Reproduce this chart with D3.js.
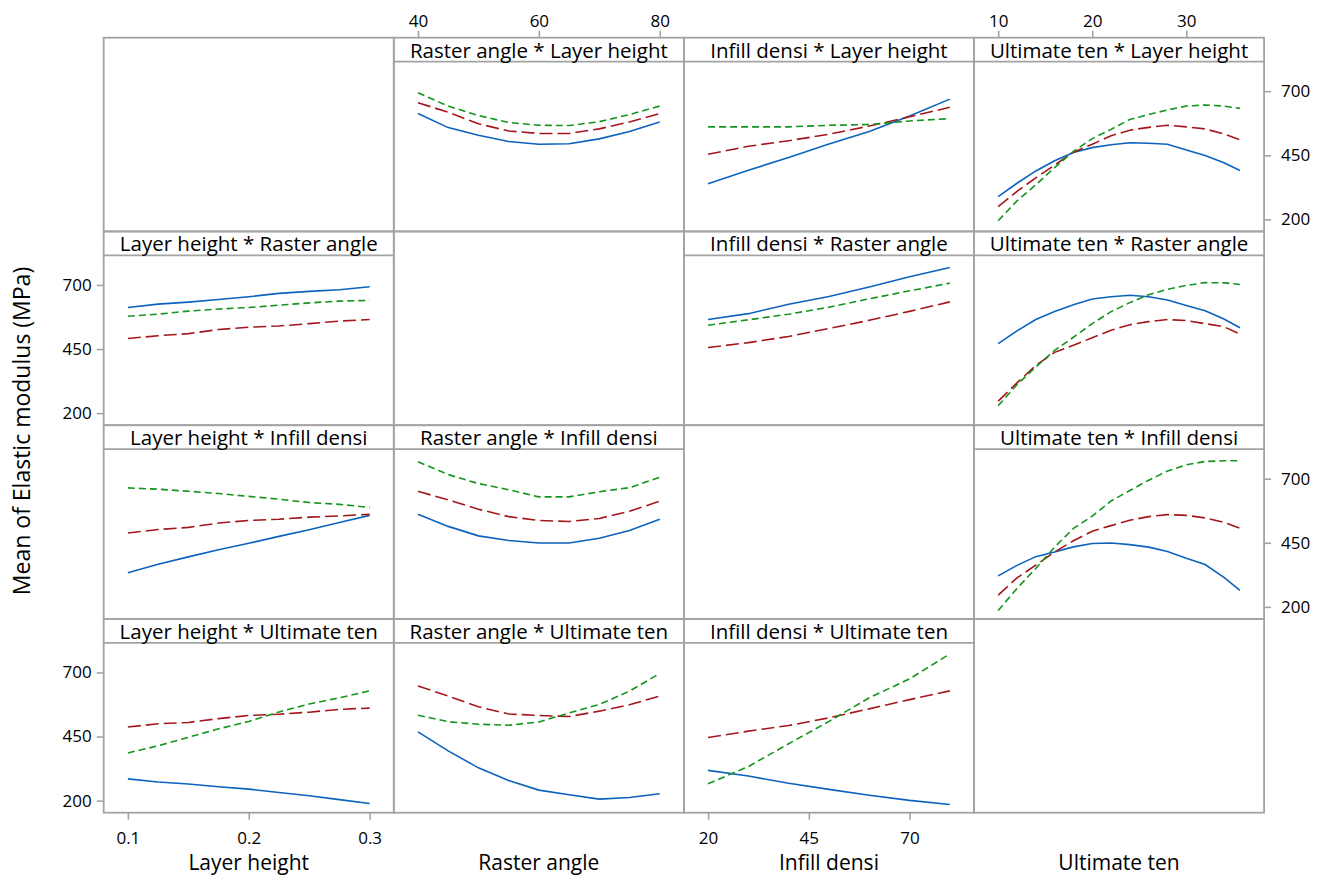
<!DOCTYPE html>
<html>
<head>
<meta charset="utf-8">
<script src="https://cdn.jsdelivr.net/npm/d3@7"></script>
<style>
  body { margin: 0; background: #fff; }
  svg { display: block; }
  text { font-family: "Open Sans", "Noto Sans", sans-serif; fill: #000; }
</style>
</head>
<body>
<svg id="chart" width="1320" height="878"></svg>
<script>
// Factors in the matrix: columns give the x variable, rows give the grouping variable
const factors = ["Layer height", "Raster angle", "Infill densi", "Ultimate ten"];

// Evaluation points along each factor
const layerHeightX = [0.1, 0.125, 0.15, 0.175, 0.2, 0.225, 0.25, 0.275, 0.3];
const rasterAngleX = [40, 45, 50, 55, 60, 65, 70, 75, 80];
const infillDensiX = [20, 30, 40, 50, 60, 70, 80];
const ultimateTenX = [10, 12, 14, 16, 18, 20, 22, 24, 26, 28, 30, 32, 34, 35.7];

// Tick labels
const yTicks = [200, 450, 700];
const layerHeightTicks = [0.1, 0.2, 0.3];
const rasterAngleTicks = [40, 60, 80];
const infillDensiTicks = [20, 45, 70];
const ultimateTenTicks = [10, 20, 30];

// Mean elastic modulus (MPa); each panel holds [low, mid, high] level series
const rasterByLayer = [
  [613, 558, 528, 504, 493, 495, 514, 543, 580],
  [655, 618, 573, 545, 535, 535, 553, 580, 613],
  [694, 642, 605, 578, 567, 566, 581, 609, 642]
];
const infillByLayer = [
  [339, 392, 441, 494, 543, 603, 669],
  [454, 485, 507, 532, 564, 600, 637],
  [561, 561, 561, 567, 570, 584, 593]
];
const ultimateByLayer = [
  [289, 341, 389, 429, 461, 480, 491, 499, 497, 493, 471, 449, 421, 391],
  [250, 309, 362, 412, 462, 493, 526, 548, 559, 567, 561, 553, 533, 511],
  [195, 272, 335, 402, 465, 515, 551, 590, 609, 627, 642, 646, 642, 633]
];
const layerByRaster = [
  [612, 625, 633, 643, 654, 667, 675, 681, 693],
  [491, 502, 510, 526, 535, 540, 549, 559, 565],
  [578, 586, 598, 606, 612, 621, 630, 637, 640]
];
const infillByRaster = [
  [565, 588, 625, 655, 692, 732, 768],
  [456, 475, 499, 530, 562, 597, 634],
  [543, 564, 586, 613, 646, 677, 707]
];
const ultimateByRaster = [
  [471, 521, 565, 596, 623, 645, 654, 660, 654, 641, 620, 599, 567, 533],
  [247, 318, 386, 437, 465, 494, 523, 545, 557, 565, 561, 549, 537, 508],
  [229, 311, 380, 445, 496, 549, 596, 631, 662, 683, 698, 709, 708, 702]
];
const layerByInfill = [
  [333, 366, 395, 423, 448, 475, 501, 529, 557],
  [488, 502, 510, 527, 537, 542, 550, 555, 561],
  [664, 659, 651, 642, 631, 620, 607, 600, 588]
];
const rasterByInfill = [
  [561, 514, 477, 459, 449, 449, 468, 498, 542],
  [651, 617, 581, 552, 537, 533, 545, 573, 612],
  [766, 716, 681, 657, 629, 629, 649, 665, 705]
];
const ultimateByInfill = [
  [321, 362, 396, 414, 434, 447, 449, 443, 433, 416, 390, 365, 315, 264],
  [246, 313, 363, 414, 458, 495, 517, 538, 552, 560, 557, 547, 530, 507],
  [186, 272, 350, 433, 506, 554, 613, 654, 694, 730, 754, 767, 770, 770]
];
const layerByUltimate = [
  [285, 273, 265, 254, 245, 232, 219, 204, 189],
  [487, 500, 505, 520, 532, 537, 545, 556, 561],
  [386, 414, 447, 480, 509, 546, 577, 601, 628]
];
const rasterByUltimate = [
  [468, 394, 328, 279, 241, 223, 206, 212, 227],
  [647, 608, 566, 538, 532, 528, 549, 574, 608],
  [533, 508, 498, 494, 507, 542, 575, 627, 696]
];
const infillByUltimate = [
  [318, 296, 268, 244, 221, 201, 185],
  [446, 471, 493, 523, 558, 594, 628],
  [266, 333, 422, 509, 601, 675, 772]
];

// Line styles for the three levels
const levelColors = ["#0c62bd", "#a3171b", "#14941c"];
const levelDashes = [null, "13,5", "7,4"];

const xByColumn = [layerHeightX, rasterAngleX, infillDensiX, ultimateTenX];
const ticksByColumn = [layerHeightTicks, rasterAngleTicks, infillDensiTicks, ultimateTenTicks];

const panels = [
  { row: 0, col: 1, series: rasterByLayer },
  { row: 0, col: 2, series: infillByLayer },
  { row: 0, col: 3, series: ultimateByLayer },
  { row: 1, col: 0, series: layerByRaster },
  { row: 1, col: 2, series: infillByRaster },
  { row: 1, col: 3, series: ultimateByRaster },
  { row: 2, col: 0, series: layerByInfill },
  { row: 2, col: 1, series: rasterByInfill },
  { row: 2, col: 3, series: ultimateByInfill },
  { row: 3, col: 0, series: layerByUltimate },
  { row: 3, col: 1, series: rasterByUltimate },
  { row: 3, col: 2, series: infillByUltimate }
];

// Layout
const gridLeft = 103.7, gridTop = 37.7;
const cellW = 290.1, cellH = 193.75, stripH = 24;
const frameColor = "#a3a3a3";

const svg = d3.select("#chart");

// x scales: data extent padded by 10% on each side
const xScales = xByColumn.map((xs, c) => {
  const [lo, hi] = d3.extent(xs);
  const pad = (hi - lo) * 0.1;
  return d3.scaleLinear()
    .domain([lo - pad, hi + pad])
    .range([gridLeft + c * cellW, gridLeft + (c + 1) * cellW]);
});

// y scales: one per row, shared domain
const yDomain = [153, 815];
const yScales = d3.range(4).map(r =>
  d3.scaleLinear()
    .domain(yDomain)
    .range([gridTop + (r + 1) * cellH, gridTop + r * cellH + stripH])
);

// Cell frames
for (let r = 0; r < 4; r++) {
  for (let c = 0; c < 4; c++) {
    svg.append("rect")
      .attr("x", gridLeft + c * cellW)
      .attr("y", gridTop + r * cellH)
      .attr("width", cellW)
      .attr("height", cellH)
      .attr("fill", "none")
      .attr("stroke", frameColor)
      .attr("stroke-width", 1.8);
  }
}

const line = d3.line();

panels.forEach(p => {
  const x0 = gridLeft + p.col * cellW;
  const y0 = gridTop + p.row * cellH;
  const xs = xByColumn[p.col];
  const xs_ = xScales[p.col];
  const ys_ = yScales[p.row];

  // strip header
  svg.append("line")
    .attr("x1", x0).attr("x2", x0 + cellW)
    .attr("y1", y0 + stripH).attr("y2", y0 + stripH)
    .attr("stroke", frameColor).attr("stroke-width", 1.8);
  svg.append("text")
    .attr("x", x0 + cellW / 2)
    .attr("y", y0 + 19.8)
    .attr("text-anchor", "middle")
    .style("font-size", "20.5px")
    .text(factors[p.col] + " * " + factors[p.row]);

  // level lines
  p.series.forEach((vals, i) => {
    const pts = vals.map((v, k) => [xs_(xs[k]), ys_(v)]);
    svg.append("path")
      .attr("d", line(pts))
      .attr("fill", "none")
      .attr("stroke", levelColors[i])
      .attr("stroke-width", 1.6)
      .attr("stroke-dasharray", levelDashes[i]);
  });
});

function styleAxis(g) {
  g.select(".domain").remove();
  g.selectAll(".tick line").attr("stroke", frameColor).attr("stroke-width", 1.6);
  g.selectAll(".tick text").style("font-size", "17px").attr("fill", "#000");
}

// Column axes: top for Raster angle and Ultimate ten, bottom for Layer height and Infill densi
[0, 1, 2, 3].forEach(c => {
  const top = (c === 1 || c === 3);
  const axis = (top ? d3.axisTop(xScales[c]) : d3.axisBottom(xScales[c]))
    .tickValues(ticksByColumn[c])
    .tickFormat(d3.format("~g"))
    .tickSize(7)
    .tickPadding(top ? 4 : 12);
  svg.append("g")
    .attr("transform", `translate(0,${top ? gridTop : gridTop + 4 * cellH})`)
    .call(axis)
    .call(styleAxis);
});

// Row axes: right for rows 1 and 3, left for rows 2 and 4
[0, 1, 2, 3].forEach(r => {
  const right = (r === 0 || r === 2);
  const axis = (right ? d3.axisRight(yScales[r]) : d3.axisLeft(yScales[r]))
    .tickValues(yTicks)
    .tickSize(7)
    .tickPadding(right ? 10 : 5);
  svg.append("g")
    .attr("transform", `translate(${right ? gridLeft + 4 * cellW : gridLeft},0)`)
    .call(axis)
    .call(styleAxis);
});

// Axis titles
factors.forEach((f, c) => {
  svg.append("text")
    .attr("x", gridLeft + c * cellW + cellW / 2)
    .attr("y", 870)
    .attr("text-anchor", "middle")
    .style("font-size", "21px")
    .text(f);
});

svg.append("text")
  .attr("transform", "translate(30,431) rotate(-90)")
  .attr("text-anchor", "middle")
  .style("font-size", "23px")
  .text("Mean of Elastic modulus (MPa)");
</script>
</body>
</html>
